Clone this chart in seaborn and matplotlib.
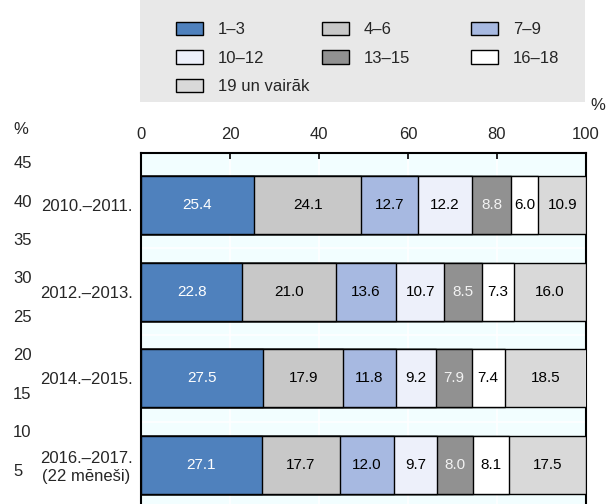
import numpy as np
import pandas as pd
import seaborn as sns
import matplotlib.pyplot as plt
from matplotlib.patches import Patch, Rectangle

# dati
periods = ['2010.–2011.', '2012.–2013.', '2014.–2015.', '2016.–2017.\n(22 mēneši)']
groups = ['1–3', '4–6', '7–9', '10–12', '13–15', '16–18', '19 un vairāk']
g1_3 = [25.4, 22.8, 27.5, 27.1]
g4_6 = [24.1, 21.0, 17.9, 17.7]
g7_9 = [12.7, 13.6, 11.8, 12.0]
g10_12 = [12.2, 10.7, 9.2, 9.7]
g13_15 = [8.8, 8.5, 7.9, 8.0]
g16_18 = [6.0, 7.3, 7.4, 8.1]
g19 = [10.9, 16.0, 18.5, 17.5]
left_ticks = [5, 10, 15, 20, 25, 30, 35, 40, 45]

colors = ['#4F81BD', '#C8C8C8', '#A7B9E1', '#EDF0FA', '#919191', '#FFFFFF', '#D9D9D9']
text_colors = ['white', 'black', 'black', 'black', '#F2F2F2', 'black', 'black']

sns.set_style('white')
plt.rcParams['font.family'] = ['Liberation Sans', 'DejaVu Sans']
plt.rcParams['font.size'] = 12

df = pd.DataFrame({'period': periods})
series = [g1_3, g4_6, g7_9, g10_12, g13_15, g16_18, g19]
for name, vals in zip(groups, series):
    df[name] = vals
cum = df[groups].cumsum(axis=1)

fig = plt.figure(figsize=(6.06, 5.04), dpi=100)
W, H = 606, 504
ax = fig.add_axes([141 / W, 0, (586 - 141) / W, (504 - 153) / H])
ax.set_facecolor('#F2FEFF')

# kumulatīvās joslas no lielākās uz mazāko
for k in range(len(groups) - 1, -1, -1):
    sns.barplot(data=cum.assign(period=periods), x=groups[k], y='period', orient='h',
                color=colors[k], saturation=1, edgecolor='black', linewidth=1,
                width=0.67, ax=ax, zorder=3)

for i in range(len(periods)):
    for k, name in enumerate(groups):
        v = df[name][i]
        x = cum[name][i] - v / 2
        ax.text(x, i, f'{v:.1f}', ha='center', va='center', fontsize=11,
                color=text_colors[k], zorder=4)

ax.set_xlim(0, 100)
ax.set_ylim(3.45, -0.6)
ax.set_xlabel('')
ax.set_ylabel('')
ax.xaxis.tick_top()
ax.set_xticks([0, 20, 40, 60, 80, 100])
ax.tick_params(axis='x', direction='in', length=4, width=1.2, color='black', pad=8,
               labelsize=12)
ax.tick_params(axis='y', length=0, pad=6, labelsize=12)
for lab in ax.get_yticklabels():
    lab.set_multialignment('center')
ax.grid(axis='x', color='white', linewidth=1.2)
ax.set_axisbelow(True)
for yy in [0.5, 1.5, 2.5]:
    ax.axhline(yy, color='white', linewidth=1.2, zorder=1)
for s in ['left', 'top', 'right']:
    ax.spines[s].set_color('black')
    ax.spines[s].set_linewidth(1.5)
ax.spines['bottom'].set_visible(False)

ax2 = ax.twinx()
ax2.set_ylim(0.58, 46.17)
ax2.set_yticks(left_ticks)
ax2.yaxis.tick_left()
ax2.tick_params(axis='y', length=0, pad=92, labelsize=12)
for lab in ax2.get_yticklabels():
    lab.set_horizontalalignment('left')
for s in ax2.spines.values():
    s.set_visible(False)

fig.text(13 / W, 1 - 130 / H, '%', fontsize=12, ha='left', va='center')
fig.text(598 / W, 1 - 105 / H, '%', fontsize=12, ha='center', va='center')

# leģenda
fig.patches.append(Rectangle((140 / W, 1 - 102 / H), (585 - 140) / W, 102 / H,
                             transform=fig.transFigure, facecolor='#E8E8E8',
                             edgecolor='none', zorder=0))
handles = [Patch(facecolor=c, edgecolor='black', linewidth=1, label=g)
           for c, g in zip(colors, groups)]
cols = [[0, 3, 6], [1, 4], [2, 5]]
xs = [176, 322, 471]
for idx, x0 in zip(cols, xs):
    leg = fig.legend(handles=[handles[j] for j in idx], loc='upper left',
                     bbox_to_anchor=(x0 / W, 1 - 22 / H), frameon=False,
                     fontsize=12, borderpad=0, borderaxespad=0,
                     handlelength=1.6, handleheight=0.85, handletextpad=0.9,
                     labelspacing=0.78)

fig.savefig('out.png', dpi=100)
